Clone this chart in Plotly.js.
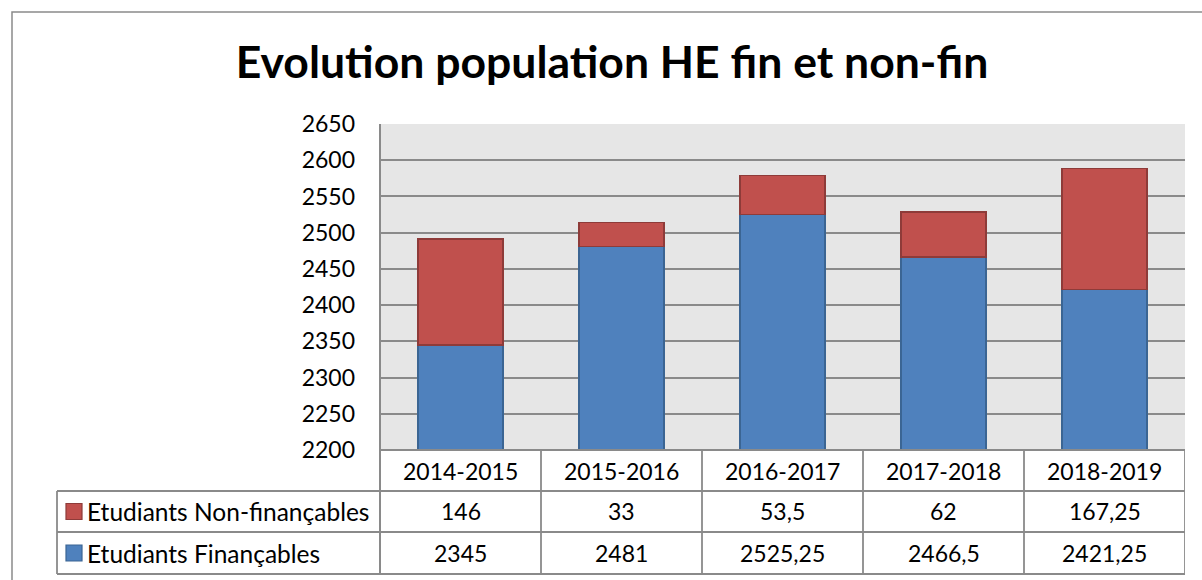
<!DOCTYPE html>
<html><head><meta charset="utf-8">
<script src="https://cdn.plot.ly/plotly-3.0.1.min.js"></script>
<style>html,body{margin:0;padding:0;background:#fff}#c{width:1202px;height:580px}</style>
</head><body><div id="c"></div>
<script>
const categories = ["2014-2015","2015-2016","2016-2017","2017-2018","2018-2019"];
const financables = [2345, 2481, 2525.25, 2466.5, 2421.25];
const nonFinancables = [146, 33, 53.5, 62, 167.25];
const financablesLabels = ["2345","2481","2525,25","2466,5","2421,25"];
const nonFinancablesLabels = ["146","33","53,5","62","167,25"];
const seriesNames = ["Etudiants Non-finançables","Etudiants Finançables"];
const yTicks = [2200,2250,2300,2350,2400,2450,2500,2550,2600,2650];

const W=1202,H=580, L=380, R=1185, T=124, B=450;
const pw=R-L, ph=B-T;
const py = p => (B-p)/ph;      // pixel y -> paper y
const px = p => (p-L)/pw;      // pixel x -> paper x
const font = "Lato, 'Open Sans', sans-serif";
const gridC = "#8a8a8a";
const fs = 23;

const traces = [
 {type:"bar", x:categories, y:financables, name:seriesNames[1],
  marker:{color:"#4f81bd", line:{color:"#3b6593", width:1.5}}},
 {type:"bar", x:categories, y:nonFinancables, name:seriesNames[0],
  marker:{color:"#c0504d", line:{color:"#8e3b39", width:1.5}}}
];

const rowY = [450, 491, 532, 574];
const TL = 57;
const shapes = [];
const ann = [];
// outer chart frame
shapes.push({type:"rect", xref:"paper", yref:"paper", x0:px(12), x1:px(1260), y0:py(12), y1:py(640), line:{color:"#8a8a8a", width:1.5}, layer:"below"});
// horizontal table lines
shapes.push({type:"line", xref:"paper", yref:"paper", x0:px(L), x1:px(R), y0:py(rowY[0]), y1:py(rowY[0]), line:{color:gridC,width:1.8}});
for (let i=1;i<4;i++) shapes.push({type:"line", xref:"paper", yref:"paper", x0:px(TL), x1:px(R), y0:py(rowY[i]), y1:py(rowY[i]), line:{color:gridC,width:1.8}});
// vertical lines
shapes.push({type:"line", xref:"paper", yref:"paper", x0:px(TL), x1:px(TL), y0:py(rowY[1]), y1:py(rowY[3]), line:{color:gridC,width:1.8}});
shapes.push({type:"line", xref:"paper", yref:"paper", x0:0, x1:0, y0:1, y1:py(rowY[3]), line:{color:gridC,width:2}});
for (let i=0;i<categories.length;i++){
  shapes.push({type:"line", xref:"x", yref:"paper", x0:i+0.5, x1:i+0.5, y0:py(rowY[0]), y1:py(rowY[3]), line:{color:gridC,width:1.8}});
}
const tf = {family:font,size:fs,color:"#000"};
// header & value cells
categories.forEach((c,i)=>{
  ann.push({xref:"x", yref:"paper", x:i, y:py((rowY[0]+rowY[1])/2), xanchor:"center", yanchor:"middle", text:c, showarrow:false, font:tf});
  ann.push({xref:"x", yref:"paper", x:i, y:py((rowY[1]+rowY[2])/2), xanchor:"center", yanchor:"middle", text:nonFinancablesLabels[i], showarrow:false, font:tf});
  ann.push({xref:"x", yref:"paper", x:i, y:py((rowY[2]+rowY[3])/2), xanchor:"center", yanchor:"middle", text:financablesLabels[i], showarrow:false, font:tf});
});
// legend keys
const keys=[{c:"#c0504d",l:"#8e3b39",row:1,name:seriesNames[0]},{c:"#4f81bd",l:"#3b6593",row:2,name:seriesNames[1]}];
keys.forEach(k=>{
  const cy=(rowY[k.row]+rowY[k.row+1])/2;
  shapes.push({type:"rect", xref:"paper", yref:"paper", x0:px(66), x1:px(82), y0:py(cy-8), y1:py(cy+8), fillcolor:k.c, line:{color:k.l,width:1.2}});
  ann.push({xref:"paper", yref:"paper", x:px(85), y:py(cy), xanchor:"left", yanchor:"middle", text:k.name, showarrow:false, font:{family:font,size:24.5,color:"#000"}});
});

const layout = {
  width:W, height:H, paper_bgcolor:"#fff", plot_bgcolor:"#e6e6e6",
  margin:{l:L, r:W-R, t:T, b:H-B, pad:0},
  barmode:"stack", bargap:0.47, showlegend:false,
  title:{text:"<b>Evolution population HE fin et non-fin</b>", xref:"container", yref:"container", x:612/W, y:1-62/H, xanchor:"center", yanchor:"middle", font:{family:font,size:44.5,color:"#000"}},
  xaxis:{type:"category", range:[-0.5,4.5], showticklabels:false, showgrid:false, zeroline:false, showline:false, ticks:""},
  yaxis:{range:[2200,2650], tickvals:yTicks, ticktext:yTicks.map(String), showgrid:true, gridcolor:gridC, gridwidth:2, zeroline:false, showline:false, ticks:"", ticklabelstandoff:24, tickfont:tf},
  shapes:shapes, annotations:ann, hovermode:false
};
Plotly.newPlot("c", traces, layout, {displayModeBar:false, staticPlot:true});
</script></body></html>
